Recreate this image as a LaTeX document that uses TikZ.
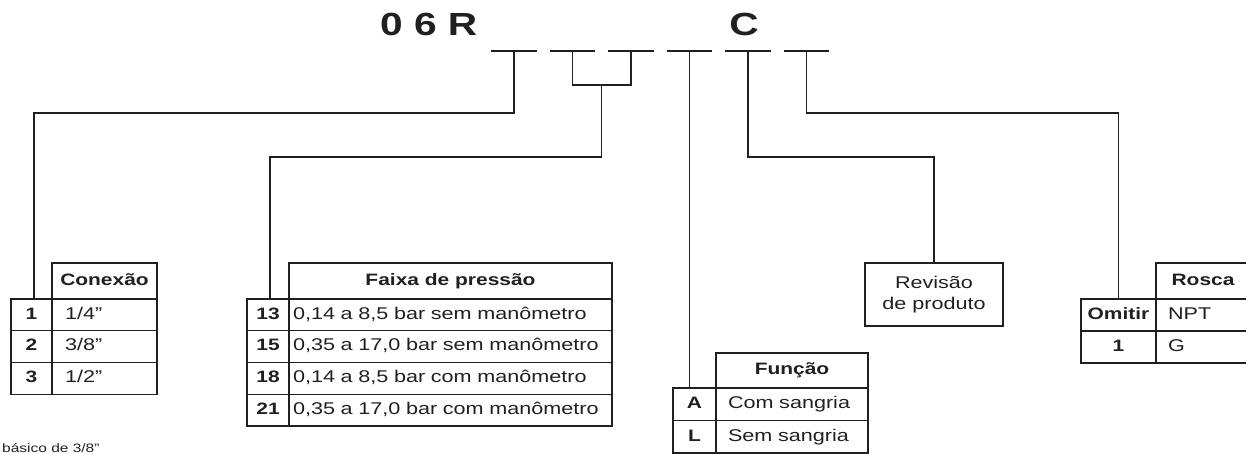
\documentclass[tikz,border=0pt]{standalone}
\usepackage{fontspec}
\setmainfont{Liberation Sans}[FakeStretch=1.27]
\usetikzlibrary{positioning,calc}
\definecolor{ink}{HTML}{231F20}

\tikzset{
  wire/.style={draw=ink, line width=1.2pt},
  slotbar/.style={draw=ink, line width=2.7pt},
  slot/.style={inner sep=0pt, minimum width=45pt, minimum height=0pt},
  cellbox/.style={draw=ink, line width=1.2pt, inner sep=0pt, outer sep=0pt, text=ink},
  headcell/.style={cellbox, font=\bfseries\fontsize{16.5}{19}\selectfont, minimum height=36pt, text height=12pt, text depth=3.5pt},
  numcell/.style={cellbox, font=\bfseries\fontsize{16.5}{19}\selectfont, minimum height=31.75pt, text height=12pt, text depth=3.5pt},
  valcell/.style={cellbox, font=\fontsize{17}{20}\selectfont, minimum height=31.75pt, text height=12pt, text depth=3.5pt, align=left},
}

\begin{document}
\begin{tikzpicture}[x=1pt, y=-1pt]
  \clip (0,0) rectangle (1246,454);
  % model code
  \node[anchor=base west, inner sep=0pt, text=ink, font=\bfseries\fontsize{32}{36}\selectfont] (code) at (380,36) {0 6 R};
  \node[anchor=base, inner sep=0pt, text=ink, font=\bfseries\fontsize{32}{36}\selectfont] (letterc) at (744,36) {C};
  % option slots
  \foreach \x [count=\i] in {514,572.5,631,689.5,748,806.5} {
    \node[slot] (s\i) at (\x,51) {};
    \draw[slotbar] (s\i.west) -- (s\i.east);
  }

  % Conexao table
  \node[headcell, minimum width=105pt] (conx) at (104.5,281) {Conexão};
  \foreach \n/\v [count=\i] in {1/{1/4"},2/{3/8"},3/{1/2"}} {
    \node[numcell, minimum width=41pt] (cnum\i) at (31.5,{299+(\i-0.5)*31.75}) {\n};
    \node[valcell, inner xsep=13pt, text width=79pt] (cval\i) at (104.5,{299+(\i-0.5)*31.75}) {\v};
  }

  % Faixa de pressao table
  \node[headcell, minimum width=323pt] (faixa) at (450.5,281) {Faixa de pressão};
  \foreach \n/\v [count=\i] in {13/{0,14 a 8,5 bar sem manômetro},15/{0,35 a 17,0 bar sem manômetro},18/{0,14 a 8,5 bar com manômetro},21/{0,35 a 17,0 bar com manômetro}} {
    \node[numcell, minimum width=42pt] (fnum\i) at (268,{299+(\i-0.5)*31.75}) {\n};
    \node[valcell, inner xsep=4pt, text width=315pt] (fval\i) at (450.5,{299+(\i-0.5)*31.75}) {\v};
  }

  % Funcao table
  \node[headcell, minimum width=152pt, minimum height=35pt] (func) at (792,370.5) {Função};
  \foreach \n/\v [count=\i] in {A/{Com sangria},L/{Sem sangria}} {
    \node[numcell, minimum width=43pt, minimum height=32.5pt] (unum\i) at (694.5,{388+(\i-0.5)*32.5}) {\n};
    \node[valcell, minimum height=32.5pt, inner xsep=12pt, text width=128pt] (uval\i) at (792,{388+(\i-0.5)*32.5}) {\v};
  }

  % Revisao box
  \node[cellbox, minimum width=138pt, minimum height=63pt, align=center, font=\fontsize{17}{21}\selectfont] (rev) at (934,294.5) {Revisão\\de produto};

  % Rosca table
  \node[headcell, minimum width=94pt] (rosca) at (1203,281) {Rosca};
  \foreach \n/\v [count=\i] in {Omitir/NPT,1/G} {
    \node[numcell, minimum width=75pt, minimum height=32pt] (rnum\i) at (1118.5,{299+(\i-0.5)*32}) {\n};
    \node[valcell, minimum height=32pt, inner xsep=12pt, text width=70pt] (rval\i) at (1203,{299+(\i-0.5)*32}) {\v};
  }

  % leader lines
  \draw[wire] (s1) -- ++(0,62) -| ([xshift=2.5pt]cnum1.north);
  \coordinate (fork) at ($(s2)!.5!(s3)+(0,34)$);
  \draw[wire] (s2) |- (fork) -| (s3);
  \draw[wire] (fork) -- ++(0,72) -| ([xshift=2pt]fnum1.north);
  \draw[wire] (s4) -- (s4 |- unum1.north);
  \draw[wire] (s5) -- ++(0,106) -| (rev.north);
  \draw[wire] (s6) -- ++(0,62) -| (rnum1.north);

  % footnote, cut off
  \node[anchor=base west, inner sep=0pt, text=ink, font=\fontsize{12.2}{14}\selectfont] (note) at (2,452) {básico de 3/8"};
\end{tikzpicture}
\end{document}
